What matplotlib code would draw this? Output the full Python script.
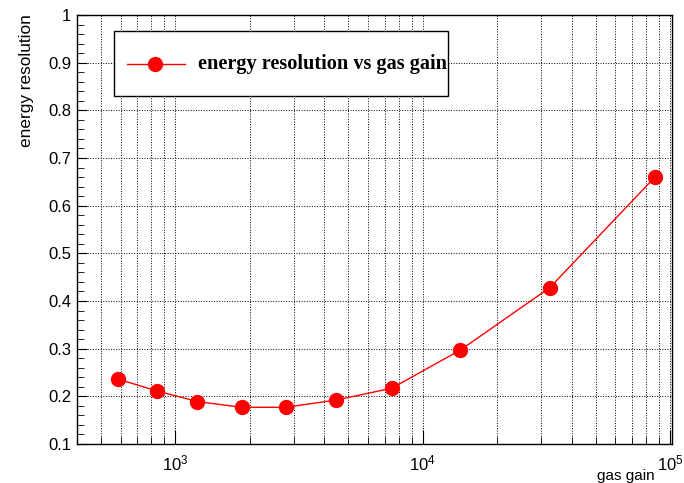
import numpy as np
import matplotlib
matplotlib.use('agg')
import matplotlib.pyplot as plt
from matplotlib.patches import Rectangle
from matplotlib.lines import Line2D
from matplotlib.ticker import LogLocator, MultipleLocator, NullFormatter, FuncFormatter

gas_gain = [586, 846, 1227, 1850, 2786, 4446, 7483, 14170, 32580, 86700]
energy_res = [0.236, 0.211, 0.189, 0.177, 0.177, 0.192, 0.217, 0.297, 0.428, 0.660]
legend_label = 'energy resolution vs gas gain'

plt.rcParams['font.family'] = ['Liberation Sans', 'DejaVu Sans']

W, H = 684, 483
f = plt.figure(figsize=(W / 100, H / 100), dpi=100)
ax = f.add_axes([77 / W, 1 - 444 / H, 595 / W, 429 / H])

ax.plot(gas_gain, energy_res, color='red', lw=1, marker='o', ms=10,
        mfc='red', mec='red', zorder=3)

ax.set_xscale('log')
ax.set_xlim(400, 1.016e5)
ax.set_ylim(0.1, 1.0)

ax.xaxis.set_major_locator(LogLocator(base=10, numticks=10))
ax.xaxis.set_minor_locator(LogLocator(base=10, subs=np.arange(2, 10), numticks=20))
ax.xaxis.set_major_formatter(FuncFormatter(lambda v, p: r'$\mathregular{10^{%d}}$' % round(np.log10(v))))
ax.xaxis.set_minor_formatter(NullFormatter())
ax.yaxis.set_major_locator(MultipleLocator(0.1))
ax.yaxis.set_minor_locator(MultipleLocator(0.02))
ax.yaxis.set_major_formatter(FuncFormatter(lambda v, p: '1' if abs(v - 1) < 1e-6 else '%.1f' % v))

ax.tick_params(which='both', direction='in', top=False, right=False, labelsize=12)
ax.tick_params(axis='y', which='major', length=7.5, pad=4)
ax.tick_params(axis='y', which='minor', length=5)
ax.tick_params(axis='x', which='major', length=10, pad=7)
ax.tick_params(axis='x', which='minor', length=5)

ax.grid(True, which='major', axis='y', color='black', ls=':', lw=0.7)
ax.grid(True, which='both', axis='x', color='black', ls=':', lw=0.7)

for s in ax.spines.values():
    s.set_linewidth(1)

# legend box drawn by hand so the text can run to the frame edge like ROOT does
tr = f.transFigure
f.patches.append(Rectangle((114 / W, 1 - 96 / H), 334 / W, 65 / H, transform=tr,
                           facecolor='white', edgecolor='black', lw=1, zorder=5))
f.lines.append(Line2D([127 / W, 185 / W], [1 - 63.5 / H] * 2, transform=tr,
                      color='red', lw=1, zorder=6))
f.lines.append(Line2D([155 / W], [1 - 63.5 / H], transform=tr, marker='o', ms=10,
                      color='red', zorder=7))
f.text(198 / W, 1 - 63.5 / H, legend_label, ha='left', va='center', zorder=8,
       family='Liberation Serif', weight='bold', fontsize=14.6)

f.text(27 / W, 1 - 14 / H, 'energy resolution', rotation=90, ha='center', va='top', fontsize=12.4)
f.text(655 / W, 1 - 476 / H, 'gas gain', ha='right', va='center', fontsize=11)

plt.savefig('out.png', dpi=100)
plt.close()
